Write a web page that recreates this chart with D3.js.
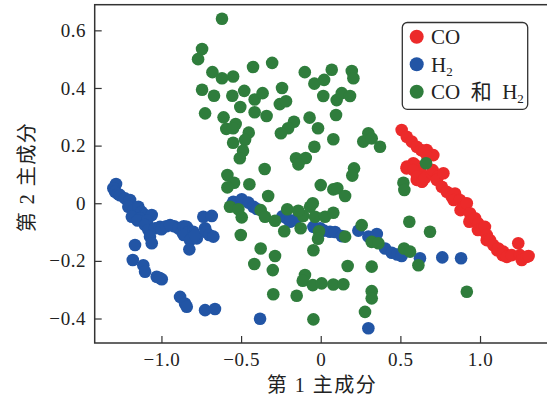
<!DOCTYPE html>
<html><head><meta charset="utf-8">
<script src="https://cdn.jsdelivr.net/npm/d3@7"></script>
<style>body{margin:0;background:#fff} svg{display:block}</style>
</head><body>
<svg id="c" width="547" height="396"></svg>
<script>
// ---- data (principal component scores) ----
const seriesNames = ["CO", "H2", "CO 和 H2"];
const coPoints = [
 [0.508,0.254],[0.540,0.231],[0.571,0.214],[0.603,0.196],[0.630,0.185],[0.665,0.185],[0.707,0.167],
 [0.648,0.179],[0.670,0.161],[0.540,0.127],[0.581,0.139],[0.623,0.115],[0.592,0.133],[0.539,0.121],
 [0.582,0.115],[0.634,0.075],[0.603,0.081],[0.605,0.092],[0.637,0.075],[0.655,0.088],[0.697,0.104],
 [0.703,0.115],[0.736,0.092],[0.728,0.081],[0.760,0.057],[0.770,0.104],[0.791,0.040],[0.822,0.023],
 [0.843,0.034],[0.834,0.011],[0.874,0.011],[0.878,-0.024],[0.895,-0.012],[0.917,0.000],[0.937,-0.035],
 [0.933,-0.064],[0.969,-0.052],[0.989,-0.070],[0.987,-0.093],[1.011,-0.093],[1.031,-0.082],
 [1.042,-0.110],[1.042,-0.128],[1.063,-0.128],[1.083,-0.145],[1.108,-0.163],[1.115,-0.157],
 [1.146,-0.168],[1.141,-0.180],[1.168,-0.186],[1.199,-0.180],[1.240,-0.139],[1.251,-0.180],
 [1.262,-0.197],[1.293,-0.186],[1.305,-0.183]
];
const h2Points = [
 [-1.285,0.067],[-1.302,0.052],[-1.291,0.040],[-1.272,0.032],[-1.260,0.028],[-1.229,0.017],[-1.197,0.011],
 [-1.208,-0.012],[-1.176,-0.024],[-1.145,-0.012],[-1.124,-0.030],[-1.103,-0.041],[-1.061,-0.041],
 [-1.186,-0.047],[-1.134,-0.052],[-1.150,-0.060],[-1.090,-0.060],[-1.103,-0.076],[-1.082,-0.093],
 [-1.040,-0.087],[-1.009,-0.082],[-1.000,-0.090],[-0.970,-0.080],[-0.920,-0.080],[-1.072,-0.116],
 [-1.061,-0.139],[-0.946,-0.076],[-0.894,-0.087],[-0.870,-0.100],[-0.860,-0.080],[-0.841,-0.082],
 [-0.830,-0.100],[-0.860,-0.110],[-0.800,-0.099],[-0.820,-0.128],[-0.778,-0.122],[-0.790,-0.110],
 [-0.825,-0.160],[-0.737,-0.047],[-0.684,-0.044],[-0.726,-0.087],[-0.720,-0.100],[-0.700,-0.110],
 [-0.674,-0.116],[-1.166,-0.145],[-1.180,-0.197],[-1.114,-0.215],[-1.103,-0.238],[-1.030,-0.255],
 [-0.998,-0.264],[-1.010,-0.260],[-0.883,-0.325],[-0.852,-0.348],[-0.841,-0.359],[-0.726,-0.371],
 [-0.664,-0.367],[-0.381,-0.401],[-0.549,0.005],[-0.496,0.014],[-0.454,0.002],[-0.423,-0.012],
 [-0.559,-0.006],[-0.400,-0.020],[-0.240,-0.045],[-0.213,-0.052],[-0.193,-0.064],[-0.161,-0.058],
 [-0.046,-0.082],[-0.004,-0.087],[0.020,-0.095],[0.058,-0.099],[0.090,-0.100],[0.132,-0.114],
 [0.236,-0.095],[0.299,-0.116],[0.352,-0.107],[0.404,-0.157],[0.446,-0.172],[0.480,-0.178],
 [0.508,-0.183],[0.623,-0.191],[0.763,-0.188],[0.881,-0.191],[0.299,-0.434]
];
const bothPoints = [
 [-0.62,0.64],[-0.745,0.535],[-0.77,0.50],[-0.68,0.455],[-0.62,0.434],[-0.55,0.44],[-0.425,0.473],
 [-0.305,0.487],[-0.10,0.455],[-0.04,0.415],[-0.745,0.394],[-0.67,0.373],[-0.555,0.373],[-0.48,0.39],
 [-0.415,0.36],[-0.365,0.382],[-0.243,0.40],[-0.505,0.334],[-0.257,0.344],[-0.218,0.354],[-0.726,0.312],
 [-0.415,0.316],[-0.34,0.303],[-0.61,0.298],[-0.534,0.275],[-0.593,0.258],[-0.55,0.26],[-0.452,0.245],
 [-0.475,0.22],[-0.55,0.21],[-0.488,0.182],[-0.508,0.156],[-0.168,0.283],[-0.205,0.26],[-0.25,0.243],
 [-0.07,0.297],[-0.017,0.26],[-0.04,0.196],[-0.155,0.156],[-0.094,0.157],[-0.14,0.135],[-0.352,0.119],
 [-0.586,0.098],[-0.544,0.071],[-0.586,0.055],[-0.448,0.066],[-0.33,0.025],[0.0,0.063],[-0.57,-0.012],
 [-0.517,-0.021],[-0.496,-0.049],[-0.377,-0.024],[-0.35,-0.047],[-0.287,-0.061],[-0.21,-0.021],
 [-0.229,-0.097],[-0.11,-0.044],[-0.126,-0.087],[-0.067,-0.012],[-0.05,0.0],[-0.036,-0.047],
 [0.027,-0.047],[-0.011,-0.097],[-0.017,-0.123],[0.079,-0.033],[-0.502,-0.11],[-0.377,-0.157],
 [-0.287,-0.183],[-0.417,-0.211],[-0.301,-0.232],[-0.099,-0.249],[-0.113,-0.269],[-0.05,-0.284],
 [0.006,-0.278],[0.079,-0.282],[0.142,-0.281],[-0.298,-0.316],[-0.151,-0.321],[-0.046,-0.403],
 [0.079,0.048],[0.104,0.052],[0.153,0.025],[-0.046,-0.163],[0.153,-0.116],[0.257,-0.076],[0.32,-0.134],
 [0.362,-0.139],[0.519,0.071],[0.525,0.046],[0.556,-0.064],[0.686,-0.099],[0.523,-0.157],[0.561,-0.168],
 [0.613,-0.215],[0.169,-0.218],[0.32,-0.22],[0.32,-0.305],[0.32,-0.33],[0.278,-0.377],[0.917,-0.307],
 [0.661,0.139],[0.021,0.428],[0.069,0.463],[0.195,0.459],[0.205,0.434],[0.016,0.372],[0.10,0.358],
 [0.132,0.382],[0.184,0.372],[0.096,0.306],[0.079,0.222],[0.267,0.214],[0.299,0.243],[0.32,0.225],
 [0.372,0.196],[0.209,0.121],[0.198,0.096],[-0.141,-0.026]
];
const xTickValues = [-1.0, -0.5, 0, 0.5, 1.0];
const xTickLabels = ["\u22121.0", "\u22120.5", "0", "0.5", "1.0"];
const yTickValues = [-0.4, -0.2, 0, 0.2, 0.4, 0.6];
const yTickLabels = ["\u22120.4", "\u22120.2", "0", "0.2", "0.4", "0.6"];
const xLabel = "第 1 主成分";
const yLabel = "第 2 主成分";

// ---- drawing ----
const colors = {"CO": "#ec2a2a", "H2": "#2255a5", "CO 和 H2": "#2f7d3c"};
const svg = d3.select("#c");
const L = 94.7, R = 549, T = 4.7, B = 343;
const x = d3.scaleLinear().domain([-1.419, 1.433]).range([L, R]);
const y = d3.scaleLinear().domain([-0.485, 0.689]).range([B, T]);
const serif = "'Liberation Serif', 'Noto Sans CJK SC', serif";
const r = 6.3;

const plot = svg.append("g");
const layers = [["CO", coPoints], ["H2", h2Points], ["CO 和 H2", bothPoints]];
layers.forEach(([name, pts]) => {
  plot.append("g").selectAll("circle").data(pts).join("circle")
    .attr("cx", d => x(d[0])).attr("cy", d => y(d[1])).attr("r", r)
    .attr("fill", colors[name]);
});

// axes
const ax = svg.append("g").attr("transform", `translate(0,${B})`)
  .call(d3.axisBottom(x).tickValues(xTickValues).tickFormat((d,i) => xTickLabels[i])
    .tickSizeInner(-7).tickSizeOuter(0).tickPadding(10));
const ay = svg.append("g").attr("transform", `translate(${L},0)`)
  .call(d3.axisLeft(y).tickValues(yTickValues).tickFormat((d,i) => yTickLabels[i])
    .tickSizeInner(-7).tickSizeOuter(0).tickPadding(8.5));
[ax, ay].forEach(g => {
  g.attr("font-family", serif);
  g.select(".domain").remove();
  g.selectAll(".tick line").attr("stroke", "#333").attr("stroke-width", 1.2);
  g.selectAll(".tick text").attr("font-family", serif).attr("font-size", 19)
    .attr("letter-spacing", 0.6).attr("fill", "#222");
});

// frame
svg.append("rect").attr("x", L).attr("y", T).attr("width", R - L).attr("height", B - T)
  .attr("fill", "none").attr("stroke", "#333").attr("stroke-width", 1.5);

// axis labels
svg.append("text").attr("x", 322).attr("y", 392).attr("text-anchor", "middle")
  .attr("font-family", serif).attr("font-size", 20).attr("fill", "#222").attr("letter-spacing", 1.5)
  .text(xLabel);
svg.append("text").attr("transform", "translate(34,177) rotate(-90)").attr("text-anchor", "middle")
  .attr("font-family", serif).attr("font-size", 20).attr("fill", "#222").attr("letter-spacing", 1.5)
  .text(yLabel);

// legend
const lg = svg.append("g");
lg.append("rect").attr("x", 402.3).attr("y", 22.5).attr("width", 125.4).attr("height", 86.8)
  .attr("rx", 5).attr("fill", "#fff").attr("stroke", "#333").attr("stroke-width", 1.3);
const rows = [36.7, 64.3, 91.7];
seriesNames.forEach((name, i) => {
  lg.append("circle").attr("cx", 416.7).attr("cy", rows[i]).attr("r", 7).attr("fill", colors[name]);
  const t = lg.append("text").attr("x", 431).attr("y", rows[i] + 7.5)
    .attr("font-family", serif).attr("font-size", 21).attr("fill", "#222");
  if (name === "CO") t.text("CO");
  else if (name === "H2") { t.append("tspan").text("H"); t.append("tspan").attr("font-size", 13).attr("dy", 4).text("2"); }
  else {
    t.append("tspan").text("CO\u2002和\u2002H");
    t.append("tspan").attr("font-size", 13).attr("dy", 4).text("2");
  }
});
</script>
</body></html>
